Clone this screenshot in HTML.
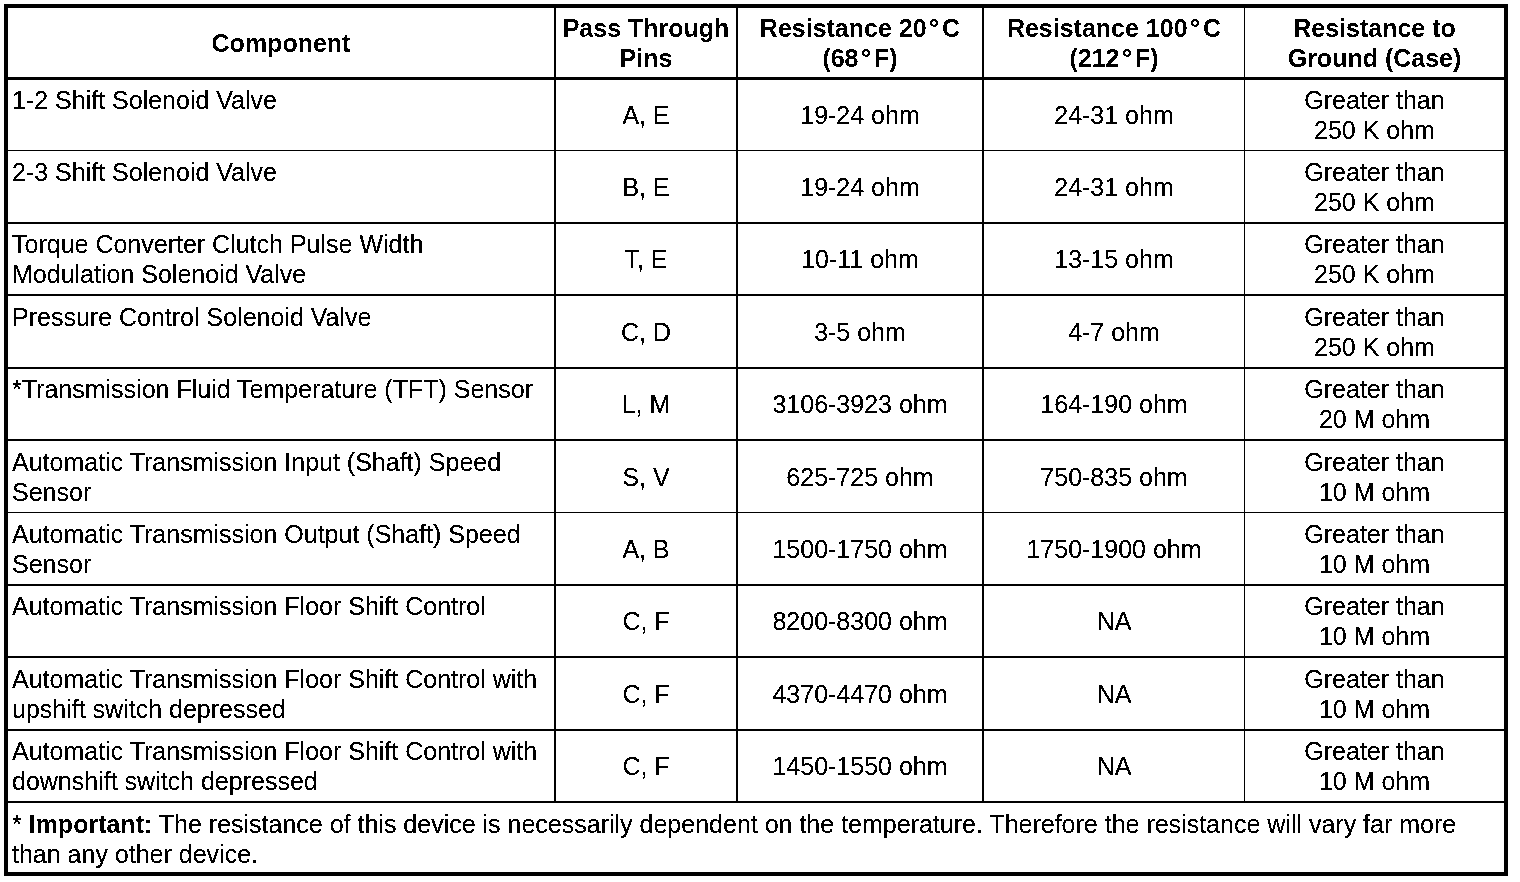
<!DOCTYPE html>
<html><head><meta charset="utf-8"><title>Transmission Component Resistance</title>
<style>
html,body{margin:0;padding:0;background:#fff;}
body{width:1520px;height:882px;position:relative;overflow:hidden;font-family:"Liberation Sans",Arial,Helvetica,sans-serif;font-size:25px;line-height:30px;color:#000;}
.l{position:absolute;background:#000;}
.c{position:absolute;display:flex;align-items:center;justify-content:center;text-align:center;white-space:nowrap;}
.t{position:absolute;white-space:nowrap;text-align:left;}
.h{font-weight:bold;}
.dg{margin:0 3px 0 2.5px;}
#pg{position:absolute;left:0;top:0;width:1520px;height:882px;background:#fff;}
.c>div,.t>span{filter:url(#fr);}
.c.h>div,.t>b{filter:url(#fb);}
</style></head><body>
<svg width="0" height="0" style="position:absolute"><filter id="fr" color-interpolation-filters="sRGB"><feComponentTransfer><feFuncA type="discrete" tableValues="0 0 1 1 1"/></feComponentTransfer></filter><filter id="fb" color-interpolation-filters="sRGB"><feComponentTransfer><feFuncA type="discrete" tableValues="0 1"/></feComponentTransfer></filter></svg>
<div id="pg">

<div class="l" style="left:4px;top:4px;width:1504px;height:4px"></div>
<div class="l" style="left:4px;top:77px;width:1504px;height:3px"></div>
<div class="l" style="left:4px;top:150px;width:1504px;height:1px"></div>
<div class="l" style="left:4px;top:222px;width:1504px;height:2px"></div>
<div class="l" style="left:4px;top:294px;width:1504px;height:2px"></div>
<div class="l" style="left:4px;top:367px;width:1504px;height:2px"></div>
<div class="l" style="left:4px;top:439px;width:1504px;height:2px"></div>
<div class="l" style="left:4px;top:512px;width:1504px;height:1px"></div>
<div class="l" style="left:4px;top:584px;width:1504px;height:2px"></div>
<div class="l" style="left:4px;top:656px;width:1504px;height:2px"></div>
<div class="l" style="left:4px;top:729px;width:1504px;height:2px"></div>
<div class="l" style="left:4px;top:801px;width:1504px;height:2px"></div>
<div class="l" style="left:4px;top:872px;width:1504px;height:4px"></div>
<div class="l" style="left:4px;top:4px;width:4px;height:872px"></div>
<div class="l" style="left:1504px;top:4px;width:4px;height:872px"></div>
<div class="l" style="left:554px;top:8px;width:2px;height:793px"></div>
<div class="l" style="left:736px;top:8px;width:2px;height:793px"></div>
<div class="l" style="left:982px;top:8px;width:2px;height:793px"></div>
<div class="l" style="left:1244px;top:8px;width:1px;height:793px"></div>
<div class="c h" style="left:8px;top:8px;width:546px;height:70px"><div>Component</div></div>
<div class="c h" style="left:556px;top:8px;width:180px;height:70px"><div>Pass Through<br>Pins</div></div>
<div class="c h" style="left:738px;top:8px;width:244px;height:70px"><div>Resistance 20<span class="dg">°</span>C<br>(68<span class="dg">°</span>F)</div></div>
<div class="c h" style="left:984px;top:8px;width:260px;height:70px"><div>Resistance 100<span class="dg">°</span>C<br>(212<span class="dg">°</span>F)</div></div>
<div class="c h" style="left:1245px;top:8px;width:259px;height:70px"><div>Resistance to<br>Ground (Case)</div></div>
<div class="t" style="left:12px;top:85px"><span>1-2 Shift Solenoid Valve</span></div>
<div class="c" style="left:556px;top:80px;width:180px;height:70px"><div>A, E</div></div>
<div class="c" style="left:738px;top:80px;width:244px;height:70px"><div>19-24 ohm</div></div>
<div class="c" style="left:984px;top:80px;width:260px;height:70px"><div>24-31 ohm</div></div>
<div class="c" style="left:1245px;top:80px;width:259px;height:70px"><div>Greater than<br>250 K ohm</div></div>
<div class="t" style="left:12px;top:157px"><span>2-3 Shift Solenoid Valve</span></div>
<div class="c" style="left:556px;top:152px;width:180px;height:70px"><div>B, E</div></div>
<div class="c" style="left:738px;top:152px;width:244px;height:70px"><div>19-24 ohm</div></div>
<div class="c" style="left:984px;top:152px;width:260px;height:70px"><div>24-31 ohm</div></div>
<div class="c" style="left:1245px;top:152px;width:259px;height:70px"><div>Greater than<br>250 K ohm</div></div>
<div class="t" style="left:12px;top:229px"><span>Torque Converter Clutch Pulse Width<br>Modulation Solenoid Valve</span></div>
<div class="c" style="left:556px;top:224px;width:180px;height:70px"><div>T, E</div></div>
<div class="c" style="left:738px;top:224px;width:244px;height:70px"><div>10-11 ohm</div></div>
<div class="c" style="left:984px;top:224px;width:260px;height:70px"><div>13-15 ohm</div></div>
<div class="c" style="left:1245px;top:224px;width:259px;height:70px"><div>Greater than<br>250 K ohm</div></div>
<div class="t" style="left:12px;top:302px"><span>Pressure Control Solenoid Valve</span></div>
<div class="c" style="left:556px;top:297px;width:180px;height:70px"><div>C, D</div></div>
<div class="c" style="left:738px;top:297px;width:244px;height:70px"><div>3-5 ohm</div></div>
<div class="c" style="left:984px;top:297px;width:260px;height:70px"><div>4-7 ohm</div></div>
<div class="c" style="left:1245px;top:297px;width:259px;height:70px"><div>Greater than<br>250 K ohm</div></div>
<div class="t" style="left:12px;top:374px"><span>*Transmission Fluid Temperature (TFT) Sensor</span></div>
<div class="c" style="left:556px;top:369px;width:180px;height:70px"><div>L, M</div></div>
<div class="c" style="left:738px;top:369px;width:244px;height:70px"><div>3106-3923 ohm</div></div>
<div class="c" style="left:984px;top:369px;width:260px;height:70px"><div>164-190 ohm</div></div>
<div class="c" style="left:1245px;top:369px;width:259px;height:70px"><div>Greater than<br>20 M ohm</div></div>
<div class="t" style="left:12px;top:447px"><span>Automatic Transmission Input (Shaft) Speed<br>Sensor</span></div>
<div class="c" style="left:556px;top:442px;width:180px;height:70px"><div>S, V</div></div>
<div class="c" style="left:738px;top:442px;width:244px;height:70px"><div>625-725 ohm</div></div>
<div class="c" style="left:984px;top:442px;width:260px;height:70px"><div>750-835 ohm</div></div>
<div class="c" style="left:1245px;top:442px;width:259px;height:70px"><div>Greater than<br>10 M ohm</div></div>
<div class="t" style="left:12px;top:519px"><span>Automatic Transmission Output (Shaft) Speed<br>Sensor</span></div>
<div class="c" style="left:556px;top:514px;width:180px;height:70px"><div>A, B</div></div>
<div class="c" style="left:738px;top:514px;width:244px;height:70px"><div>1500-1750 ohm</div></div>
<div class="c" style="left:984px;top:514px;width:260px;height:70px"><div>1750-1900 ohm</div></div>
<div class="c" style="left:1245px;top:514px;width:259px;height:70px"><div>Greater than<br>10 M ohm</div></div>
<div class="t" style="left:12px;top:591px"><span>Automatic Transmission Floor Shift Control</span></div>
<div class="c" style="left:556px;top:586px;width:180px;height:70px"><div>C, F</div></div>
<div class="c" style="left:738px;top:586px;width:244px;height:70px"><div>8200-8300 ohm</div></div>
<div class="c" style="left:984px;top:586px;width:260px;height:70px"><div>NA</div></div>
<div class="c" style="left:1245px;top:586px;width:259px;height:70px"><div>Greater than<br>10 M ohm</div></div>
<div class="t" style="left:12px;top:664px"><span>Automatic Transmission Floor Shift Control with<br>upshift switch depressed</span></div>
<div class="c" style="left:556px;top:659px;width:180px;height:70px"><div>C, F</div></div>
<div class="c" style="left:738px;top:659px;width:244px;height:70px"><div>4370-4470 ohm</div></div>
<div class="c" style="left:984px;top:659px;width:260px;height:70px"><div>NA</div></div>
<div class="c" style="left:1245px;top:659px;width:259px;height:70px"><div>Greater than<br>10 M ohm</div></div>
<div class="t" style="left:12px;top:736px"><span>Automatic Transmission Floor Shift Control with<br>downshift switch depressed</span></div>
<div class="c" style="left:556px;top:731px;width:180px;height:70px"><div>C, F</div></div>
<div class="c" style="left:738px;top:731px;width:244px;height:70px"><div>1450-1550 ohm</div></div>
<div class="c" style="left:984px;top:731px;width:260px;height:70px"><div>NA</div></div>
<div class="c" style="left:1245px;top:731px;width:259px;height:70px"><div>Greater than<br>10 M ohm</div></div>
<div class="t" style="left:12px;top:809px"><span>* </span><b>Important:</b><span> The resistance of this device is necessarily dependent on the temperature. Therefore the resistance will vary far more<br>than any other device.</span></div>
</div></body></html>
